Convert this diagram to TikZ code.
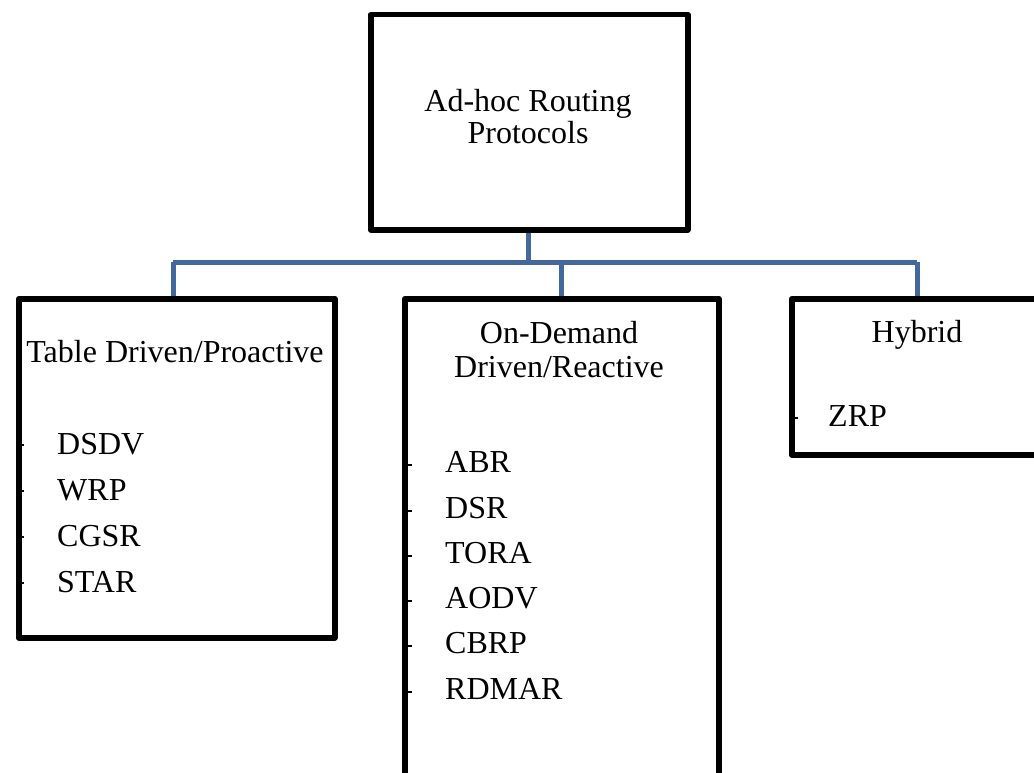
\documentclass[tikz,border=0pt]{standalone}
\usepackage{fontspec}
\setmainfont{Liberation Serif}
\begin{document}
\begin{tikzpicture}[x=1pt,y=-1pt,
  box/.style={draw=black, line width=5.5pt, line join=round, inner sep=0pt, anchor=north west},
  conn/.style={draw=linkblue, line width=5pt},
  txt/.style={inner sep=0pt, anchor=base, font=\fontsize{32}{38}\selectfont},
  item/.style={inner sep=0pt, anchor=base west, font=\fontsize{32}{38}\selectfont},
  dashmark/.style={draw=black, line width=1.8pt}]
\definecolor{linkblue}{RGB}{66,104,158}
\clip (0,0) rectangle (1034,773);
\useasboundingbox (0,0) rectangle (1034,773);

% connector points
\coordinate (bar) at (528,262);
\coordinate (barL) at (173,262);
\coordinate (barM) at (561,262);
\coordinate (barR) at (917,262);

% dashes (partly under the box borders)
\foreach \y in {445,491,537,583}{
  \draw[dashmark] (16,\y) -- (24,\y);
}
\foreach \y in {465,511,556,601,646,692}{
  \draw[dashmark] (402,\y) -- (412,\y);
}
\draw[dashmark] (789,418) -- (798,418);

% boxes
\node[box, minimum width=317pt, minimum height=215pt] (root) at (368,12) {};
\node[box, minimum width=316pt, minimum height=339pt] (tbl) at (16,296) {};
\node[box, minimum width=314pt, minimum height=500pt] (ond) at (402,296) {};
\node[box, minimum width=262pt, minimum height=156pt] (hyb) at (789,296) {};

\draw[conn] (root.south -| bar) -- (bar);
\draw[conn] (barL) -- (barR);
\draw[conn] (barL) -- (barL |- tbl.north);
\draw[conn] (barM) -- (barM |- ond.north);
\draw[conn] (barR) -- (barR |- hyb.north);

% root text
\node[txt] (r1) at (528,112) {Ad-hoc Routing};
\node[txt] (r2) at (528,144) {Protocols};

% table driven
\node[txt] (t0) at (175,362) {Table Driven/Proactive};
\foreach \n/\y/\s in {t1/454/DSDV, t2/500/WRP, t3/546/CGSR, t4/592/STAR}{
  \node[item] (\n) at (57,\y) {\s};
}

% on demand
\node[txt] (o0) at (559,343) {On-Demand};
\node[txt] (o00) at (559,377) {Driven/Reactive};
\foreach \n/\y/\s in {o1/472/ABR, o2/518/DSR, o3/563/TORA, o4/608/AODV, o5/653/CBRP, o6/699/RDMAR}{
  \node[item] (\n) at (445,\y) {\s};
}

% hybrid
\node[txt] (h0) at (917,342) {Hybrid};
\node[item] (h1) at (828,426) {ZRP};
\end{tikzpicture}
\end{document}
